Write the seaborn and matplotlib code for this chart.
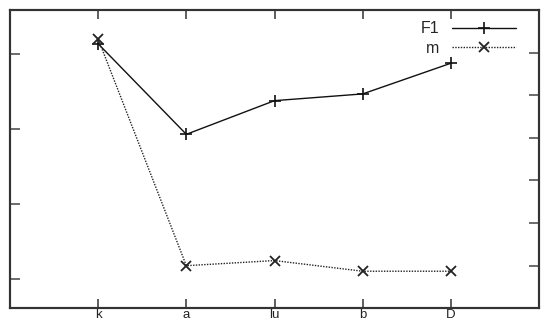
import matplotlib
matplotlib.use("Agg")
import matplotlib.pyplot as plt
import seaborn as sns
import pandas as pd

# ---- data ----
categories = ["k", "a", "lu", "b", "D"]
f1_values = [0.814, 0.693, 0.738, 0.747, 0.788]
m_values = [63.2, 10.0, 11.2, 8.7, 8.7]
left_ticks = [0.5, 0.6, 0.7, 0.8]
right_ticks = [10, 20, 30, 40, 50, 60]

sns.set_theme(style="white")
plt.rcParams['font.family'] = ['Liberation Sans', 'DejaVu Sans']

W, H = 543, 323
fig = plt.figure(figsize=(W / 100, H / 100), dpi=100)
ax = fig.add_axes([10 / W, (H - 308.3) / H, 529 / W, 298.3 / H])
ax2 = ax.twinx()

df = pd.DataFrame({"x": list(range(len(categories))), "F1": f1_values, "m": m_values})

sns.lineplot(data=df, x="x", y="F1", ax=ax, color="#111111", lw=1.0,
             marker="+", markersize=8.5, markeredgewidth=1.2,
             markeredgecolor="#111111", markerfacecolor="#111111", legend=False)
sns.lineplot(data=df, x="x", y="m", ax=ax2, color="#222222", lw=1.0,
             linestyle=(0, (1, 1)), marker="x", markersize=7,
             markeredgewidth=1.3, markeredgecolor="#222222",
             markerfacecolor="#222222", legend=False)

ax.set_xlim(-1, 5)
ax.set_ylim(0.4604, 0.8592)
ax2.set_ylim(0, 70)

ax.set_xticks(range(len(categories)))
ax.set_xticklabels(categories, fontsize=9.5, color="#222222")
ax.set_yticks(left_ticks)
ax.set_yticklabels([])
ax2.set_yticks(right_ticks)
ax2.set_yticklabels([])
ax.set_xlabel("")
ax.set_ylabel("")
ax2.set_ylabel("")

ax.tick_params(axis="x", direction="in", length=6.5, width=1.1, color="#333333",
               top=True, bottom=True, pad=0.8)
ax.tick_params(axis="y", direction="in", length=7, width=1.1, color="#444444",
               left=True, right=False)
ax2.tick_params(axis="y", direction="in", length=7, width=1.1, color="#444444",
                right=True, left=False)

for a in (ax, ax2):
    for s in a.spines.values():
        s.set_visible(True)
        s.set_color("#333333")
        s.set_linewidth(1.5)

h1 = ax.lines[0]
h2 = ax2.lines[0]
leg = ax2.legend([h1, h2], ["F1", "m"], loc="upper right", markerfirst=False,
                 frameon=False, fontsize=11.5, handlelength=4.0, handletextpad=0.8,
                 labelspacing=0.3, borderaxespad=0.3, bbox_to_anchor=(0.977, 1.0))

fig.savefig("out.png", dpi=100)
